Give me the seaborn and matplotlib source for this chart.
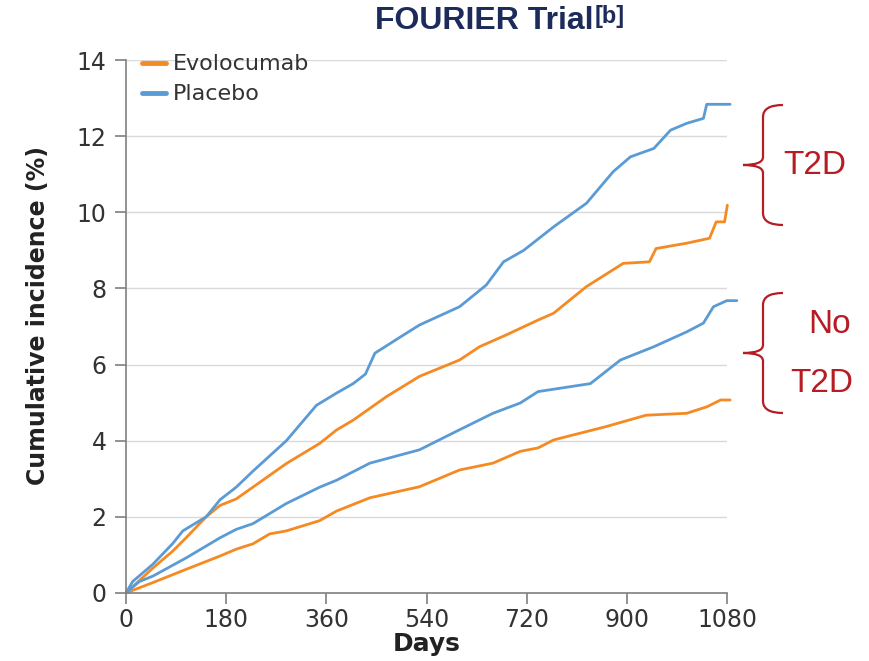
import matplotlib
matplotlib.use("Agg")
import matplotlib.pyplot as plt
from matplotlib.path import Path
from matplotlib.patches import PathPatch
from matplotlib.lines import Line2D
import seaborn as sns
import pandas as pd

# ---- data ----
placebo_t2d_days = [0, 12, 48, 84, 102, 144, 169, 198, 228, 288, 342, 378, 408, 430, 447, 490, 527,
                    599, 647, 678, 714, 768, 827, 875, 906, 948, 978, 1007, 1037, 1043, 1085]
placebo_t2d_vals = [0, 0.3, 0.75, 1.3, 1.63, 2.0, 2.45, 2.78, 3.2, 4.0, 4.93, 5.25, 5.5, 5.75, 6.3, 6.7, 7.04,
                    7.52, 8.09, 8.7, 9.0, 9.62, 10.24, 11.07, 11.46, 11.68, 12.16, 12.34, 12.47, 12.84, 12.84]

evolo_t2d_days = [0, 48, 84, 108, 144, 169, 198, 228, 288, 348, 378, 408, 468, 527, 599, 635, 683, 740,
                  768, 827, 893, 940, 952, 1007, 1048, 1060, 1075, 1080]
evolo_t2d_vals = [0, 0.65, 1.1, 1.45, 2.0, 2.3, 2.47, 2.78, 3.4, 3.93, 4.28, 4.54, 5.16, 5.69, 6.12, 6.47, 6.78, 7.17,
                  7.35, 8.05, 8.66, 8.7, 9.05, 9.19, 9.32, 9.75, 9.75, 10.19]

placebo_no_days = [0, 24, 48, 108, 169, 198, 228, 288, 348, 378, 438, 527, 587, 659, 708, 740, 798, 834,
                   888, 948, 1007, 1037, 1055, 1079, 1097]
placebo_no_vals = [0, 0.3, 0.44, 0.92, 1.45, 1.67, 1.82, 2.35, 2.78, 2.96, 3.41, 3.76, 4.2, 4.72, 4.99, 5.29, 5.42, 5.5,
                   6.12, 6.47, 6.86, 7.09, 7.52, 7.68, 7.68]

evolo_no_days = [0, 48, 108, 169, 198, 228, 258, 288, 348, 378, 438, 527, 599, 659, 708, 740, 768, 862,
                 934, 1007, 1043, 1068, 1085]
evolo_no_vals = [0, 0.27, 0.62, 0.97, 1.15, 1.29, 1.55, 1.63, 1.9, 2.15, 2.5, 2.79, 3.23, 3.41, 3.72, 3.81, 4.02, 4.37,
                 4.67, 4.72, 4.89, 5.07, 5.07]

arms = ["Evolocumab", "Placebo"]
x_ticks = [0, 180, 360, 540, 720, 900, 1080]
y_ticks = [0, 2, 4, 6, 8, 10, 12, 14]

series = [
    ("Placebo", "T2D", placebo_t2d_days, placebo_t2d_vals),
    ("Evolocumab", "T2D", evolo_t2d_days, evolo_t2d_vals),
    ("Placebo", "No T2D", placebo_no_days, placebo_no_vals),
    ("Evolocumab", "No T2D", evolo_no_days, evolo_no_vals),
]
rows = []
for arm, grp, d, v in series:
    for dd, vv in zip(d, v):
        rows.append({"Arm": arm, "Group": grp + " " + arm, "Day": dd, "Incidence": vv})
df = pd.DataFrame(rows)

ORANGE = "#F58A23"
BLUE = "#5B9BD5"
RED = "#B71C24"
GRAY = "#7F7F7F"

sns.set_theme(style="white")
plt.rcParams["font.family"] = ["DejaVu Sans"]

fig = plt.figure(figsize=(8.69, 6.61), dpi=100)
ax = fig.add_axes([0.145, 0.103, 0.692, 0.806])

sns.lineplot(data=df, x="Day", y="Incidence", hue="Arm", hue_order=arms, units="Group",
             estimator=None, sort=False, palette={"Evolocumab": ORANGE, "Placebo": BLUE},
             linewidth=2.0, legend=False, ax=ax)
for ln in ax.lines:
    ln.set_clip_on(False)

ax.set_xlim(0, 1080)
ax.set_ylim(0, 14)
ax.set_xticks(x_ticks)
ax.set_yticks(y_ticks)
ax.yaxis.grid(True, color="#D9D9D9", linewidth=1.0)
ax.xaxis.grid(False)
ax.set_axisbelow(True)
for s in ["top", "right"]:
    ax.spines[s].set_visible(False)
for s in ["left", "bottom"]:
    ax.spines[s].set_color(GRAY)
    ax.spines[s].set_linewidth(1.2)
ax.tick_params(axis="both", direction="out", length=8, width=1.2, color=GRAY,
               labelsize=17, labelcolor="#333333", pad=5)
ax.tick_params(axis="x", bottom=True, pad=3)
ax.tick_params(axis="y", left=True, pad=6)

ax.set_xlabel("Days", fontsize=18, fontweight="bold", color="#222222", labelpad=0)
ax.set_ylabel("Cumulative incidence (%)", fontsize=17, fontweight="bold", color="#222222")
ax.yaxis.set_label_coords(-0.126, 0.52)

handles = [Line2D([0], [0], color=ORANGE, lw=3.5), Line2D([0], [0], color=BLUE, lw=3.5)]
ax.legend(handles, arms, loc="upper left", bbox_to_anchor=(0.0, 1.04), frameon=False,
          fontsize=16, handlelength=1.1, handletextpad=0.3, labelspacing=0.45, borderaxespad=0.3,
          labelcolor="#333333")

# title
title_font = ["Liberation Sans", "DejaVu Sans"]
t = fig.text(0.557, 0.968, "FOURIER Trial", ha="center", va="center", fontsize=23,
             fontweight="bold", color="#1C2B5A", family=title_font)
ax.annotate("[b]", xy=(1.005, 1.05), xycoords=t, ha="left", va="top", fontsize=17,
            fontweight="bold", color="#1C2B5A", annotation_clip=False, family=title_font)

# braces
W, H = 869.0, 661.0
def P(x, y):
    return (x / W, 1 - y / H)

def brace(top, bottom, xv=763, xr=783, xl=743):
    mid = (top + bottom) / 2.0
    verts = [P(xr, top), P(xv, top), P(xv, top + 12),
             P(xv, mid - 8), P(xv, mid), P(xl, mid),
             P(xv, mid), P(xv, mid + 8),
             P(xv, bottom - 12), P(xv, bottom), P(xr, bottom)]
    codes = [Path.MOVETO, Path.CURVE3, Path.CURVE3,
             Path.LINETO, Path.CURVE3, Path.CURVE3,
             Path.CURVE3, Path.CURVE3,
             Path.LINETO, Path.CURVE3, Path.CURVE3]
    patch = PathPatch(Path(verts, codes), transform=fig.transFigure, fill=False,
                      edgecolor=RED, linewidth=1.6)
    fig.patches.append(patch)

brace(105, 225)
brace(293, 413)

lab_font = ["Liberation Sans", "DejaVu Sans"]
fig.text(815 / W, 1 - 165 / H, "T2D", ha="center", va="center", fontsize=24, color=RED, family=lab_font)
fig.text(830 / W, 1 - 325 / H, "No", ha="center", va="center", fontsize=24, color=RED, family=lab_font)
fig.text(822 / W, 1 - 383 / H, "T2D", ha="center", va="center", fontsize=24, color=RED, family=lab_font)

fig.savefig("out.png", dpi=100)
